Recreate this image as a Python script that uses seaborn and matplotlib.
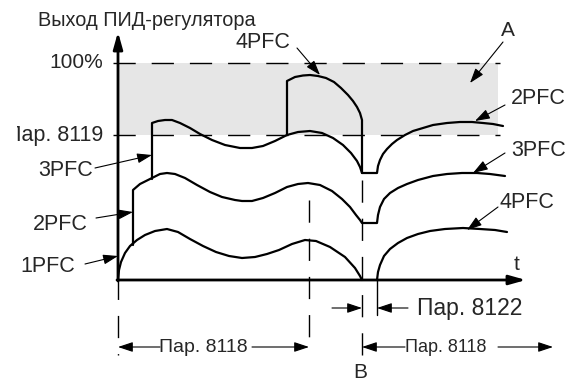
import matplotlib
matplotlib.use("Agg")
import matplotlib.pyplot as plt
from matplotlib.transforms import Bbox
import seaborn as sns

# === Curve data (time units along t, PID output units along v) ===
# 1PFC base curve, ends at event B
pfc1_t = [0, 1, 3, 7, 12, 19, 27, 37, 49, 60, 72, 85, 98, 111, 124, 137, 149, 161,
          174, 187, 198, 212, 227, 237, 242, 244]
pfc1_v = [0, 10, 18, 27, 34, 40, 45, 49, 51, 48, 41, 34, 28, 24, 22, 23, 26, 30,
          36, 40, 39, 33, 23, 12, 4, 0]
# 4PFC after restart (lowest right-hand curve)
pfc1r_t = [259, 260, 262, 266, 272, 280, 289, 300, 312, 327, 345, 362, 377, 389]
pfc1r_v = [0, 8, 15, 24, 31, 37, 42, 46, 49, 51, 52, 51, 50, 48]

# 2PFC curve incl. jump, dip and 3PFC right-hand curve
pfc2_t = [15, 15, 22, 32, 42, 49, 57, 67, 79, 92, 104, 117, 124, 134, 145, 157, 169,
          180, 190, 202, 214, 224, 232, 238, 242, 244, 259, 260, 262, 266, 272, 280,
          289, 300, 315, 329, 344, 359, 372, 387]
pfc2_v = [35, 90, 96, 101, 106, 107, 106, 102, 95, 88, 83, 80, 79, 79, 82, 87, 93,
          96, 97, 95, 89, 81, 73, 65, 60, 57, 57, 65, 73, 81, 87, 92,
          96, 100, 104, 106, 107, 107, 106, 104]

# 3PFC curve incl. jump, dip and 2PFC right-hand curve
pfc3_t = [34, 34, 40, 47, 54, 62, 72, 82, 94, 107, 122, 134, 145, 157, 169, 180, 192,
          204, 215, 225, 233, 239, 242, 244, 259, 260, 262, 265, 269, 274, 279, 287,
          295, 305, 315, 329, 342, 354, 365, 375, 385]
pfc3_v = [101, 157, 159, 160, 160, 157, 152, 146, 140, 135, 132, 132, 134, 139, 145,
          148, 149, 147, 142, 135, 127, 119, 113, 107, 107, 114, 120, 126, 131, 136,
          140, 145, 149, 152, 155, 157, 158, 158, 157, 156, 154]

# 4PFC dome
pfc4_t = [169, 169, 177, 185, 192, 200, 208, 216, 223, 230, 235, 239, 242, 244, 244]
pfc4_v = [145, 199, 203, 204.5, 205, 204, 202, 198, 192, 185, 179, 173, 167, 160, 107]

# === Levels / times ===
level_100 = 217
level_8119 = 145
t_b = 244          # event B
t_restart = 259    # end of Par. 8122
t_8118 = 191       # end of first Par. 8118 interval

# === Figure ===
sns.set_style("white")
plt.rcParams["font.family"] = ["Liberation Sans", "DejaVu Sans"]
fs_lbl = 15.5

fig = plt.figure(figsize=(5.72, 3.81), dpi=100)
ax = fig.add_axes([0, 0, 1, 1])
ax.set_xlim(-118, 454)
ax.set_ylim(-101, 280)
ax.set_axis_off()

# shaded band between Par. 8119 and 100%
ax.fill_between([0, 380], level_8119, level_100, color="#e6e6e6", lw=0, zorder=0)
dash = (0, (16, 11.5))
for lvl in [level_100, level_8119]:
    ax.plot([-5, 382], [lvl, lvl], color="black", lw=1, linestyle=dash, zorder=1)

# dashed time markers
ax.plot([0, 0], [0, -75], color="black", lw=1, linestyle=(2, (16, 11.5)))
ax.plot([t_8118, t_8118], [80, -72], color="black", lw=1, linestyle=dash)
ax.plot([t_b, t_b], [100, -75], color="black", lw=1, linestyle=dash)
ax.plot([t_restart, t_restart], [0, -35], color="black", lw=1)

# curves
for tt, vv in [(pfc1_t, pfc1_v), (pfc1r_t, pfc1r_v), (pfc2_t, pfc2_v),
               (pfc3_t, pfc3_v), (pfc4_t, pfc4_v)]:
    sns.lineplot(x=tt, y=vv, sort=False, estimator=None, color="black",
                 lw=1.6, ax=ax, zorder=3)

# axes with arrows
axis_arrow = dict(arrowstyle="-|>,head_length=0.5,head_width=0.14",
                  mutation_scale=20, color="black", lw=2, shrinkA=0, shrinkB=0)
ax.annotate("", xy=(0, 248), xytext=(0, -1), arrowprops=axis_arrow, zorder=4)
ax.annotate("", xy=(408, 0), xytext=(-1, 0), arrowprops=axis_arrow, zorder=4)

# label arrows
small = dict(arrowstyle="-|>,head_length=0.45,head_width=0.15",
             mutation_scale=20, color="black", lw=0.8, shrinkA=0, shrinkB=0)


def arrow(tail, head):
    ax.annotate("", xy=head, xytext=tail, arrowprops=small, zorder=5)


arrow((385, 238), (352, 197))    # A
arrow((387, 175), (357, 159))    # 2PFC right
arrow((387, 127), (355, 107))    # 3PFC right
arrow((380, 73), (349, 50))      # 4PFC right
arrow((179, 232), (202, 205))    # 4PFC top
arrow((-23, 112), (34, 125))     # 3PFC left
arrow((-22, 62), (15, 68))       # 2PFC left
arrow((-33, 16), (0, 24))        # 1PFC left

# interval arrows
arrow((214, -28), (t_b, -28))
arrow((290, -28), (t_restart, -28))
arrow((42, -67), (0, -67))
arrow((134, -67), (t_8118, -67))
arrow((287, -67), (t_b, -67))
arrow((380, -67), (435, -67))

# texts
ax.text(29, 260, "Выход ПИД-регулятора", fontsize=14.3, ha="center", va="center")
ax.text(-15, level_100, "100%", fontsize=15, ha="right", va="center")
lbl = ax.text(-15, level_8119, "Пар. 8119", fontsize=15.5, ha="right", va="center")
lbl.set_clip_box(Bbox([[17, 0], [572, 381]]))   # left edge is cut off in the original
lbl.set_clip_on(True)
ax.text(145, 237, "4PFC", fontsize=fs_lbl, ha="center", va="center")
ax.text(-25, 110, "3PFC", fontsize=fs_lbl, ha="right", va="center")
ax.text(-30, 56, "2PFC", fontsize=fs_lbl, ha="right", va="center")
ax.text(-43, 13, "1PFC", fontsize=fs_lbl, ha="right", va="center")
ax.text(393, 182, "2PFC", fontsize=fs_lbl, ha="left", va="center")
ax.text(393, 129, "3PFC", fontsize=fs_lbl, ha="left", va="center")
ax.text(381, 77, "4PFC", fontsize=fs_lbl, ha="left", va="center")
ax.text(390, 250, "A", fontsize=15, ha="center", va="center")
ax.text(242, -92, "B", fontsize=15, ha="center", va="center")
ax.text(399, 15, "t", fontsize=15, ha="center", va="center")
ax.text(299, -28, "Пар. 8122", fontsize=16.5, ha="left", va="center")
ax.text(85, -67, "Пар. 8118", fontsize=14, ha="center", va="center",
        bbox=dict(facecolor="white", edgecolor="none", pad=1))
ax.text(328, -67, "Пар. 8118", fontsize=13, ha="center", va="center",
        bbox=dict(facecolor="white", edgecolor="none", pad=1))

fig.savefig("out.png", dpi=100)
